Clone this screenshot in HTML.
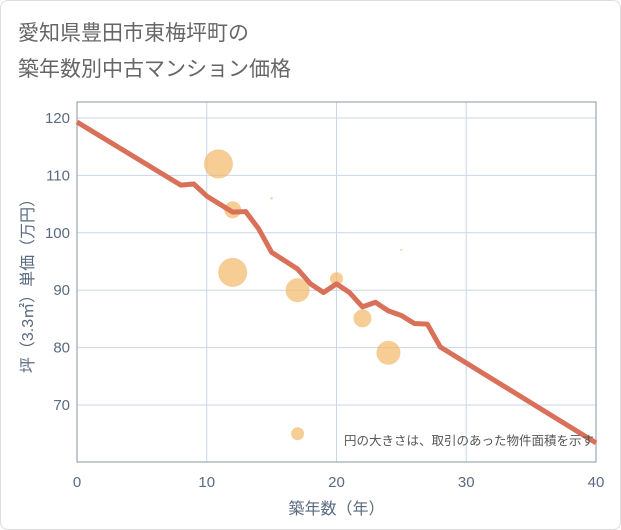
<!DOCTYPE html>
<html><head><meta charset="utf-8"><style>
body{margin:0;background:#fff;font-family:"Liberation Sans","Noto Sans CJK JP",sans-serif;}
#card{position:absolute;left:0;top:0;width:619px;height:528px;border:1px solid #ddd;border-radius:8px;}
</style></head><body>
<div id="card"></div>
<svg id="chart" width="621" height="530" style="position:absolute;left:0;top:0">
<text x="18" y="40" font-size="21" fill="#666" font-family="Liberation Sans, Noto Sans CJK JP, sans-serif">愛知県豊田市東梅坪町の</text>
<text x="18" y="76" font-size="21" fill="#666" font-family="Liberation Sans, Noto Sans CJK JP, sans-serif">築年数別中古マンション価格</text>
<g id="plot"></g>
</svg>
<script>
const xTicks=[0,10,20,30,40];
const yTicks=[70,80,90,100,110,120];
const lineYears=[0,8,9,10,12,13,14,15,17,18,19,20,21,22,23,24,25,26,27,28,40];
const lineValues=[119.3,108.3,108.5,106.4,103.6,103.7,100.7,96.6,93.7,91.1,89.6,91.1,89.6,87.1,87.9,86.4,85.6,84.2,84.1,80.1,63.4];
const bubbleYears=[10.9,12,12,15,17,20,22,24,25,17];
const bubbleValues=[112,104,93.1,106,90,92,85.1,79.1,97,65];
const bubbleSizes=[14.5,8.5,14.5,1.2,12,6.5,9,12,1,6.5];
const L=77,R=596,T=102,B=462;
const sx=v=>L+(v-0)/40*(R-L);
const sy=v=>118+(120-v)*(287/50);
const ns="http://www.w3.org/2000/svg";
const g=document.getElementById('plot');
function mk(t,a){const e=document.createElementNS(ns,t);for(const k in a)e.setAttribute(k,a[k]);g.appendChild(e);return e;}
xTicks.forEach(t=>{const l=mk('line',{x1:sx(t),x2:sx(t),y1:T,y2:B,stroke:'#c9d7e6','stroke-width':1});

const tx=mk('text',{x:sx(t),y:487,'font-size':15,fill:'#5a6a80','text-anchor':'middle'});tx.textContent=t;
});
yTicks.forEach(t=>{const l=mk('line',{x1:L,x2:R,y1:sy(t),y2:sy(t),stroke:'#c9d7e6','stroke-width':1});

const tx=mk('text',{x:70,y:sy(t)+5,'font-size':15,fill:'#5a6a80','text-anchor':'end'});tx.textContent=t;
});
const fr=mk('rect',{x:L,y:T,width:R-L,height:B-T,fill:'none',stroke:'#8a96a6','stroke-width':1});

bubbleYears.forEach((y,i)=>{const c=mk('circle',{cx:sx(y),cy:sy(bubbleValues[i]),r:bubbleSizes[i],fill:'#f2b866','fill-opacity':0.7});
});
const p=mk('polyline',{points:lineYears.map((y,i)=>sx(y)+','+sy(lineValues[i])).join(' '),fill:'none',stroke:'#d9705a','stroke-width':5,'stroke-linejoin':'round'});

const note=mk('text',{x:594,y:445,'font-size':12.5,fill:'#555','text-anchor':'end'});note.textContent='円の大きさは、取引のあった物件面積を示す';

const xt=mk('text',{x:(L+R)/2,y:514,'font-size':16,fill:'#5a6a80','text-anchor':'middle'});xt.textContent='築年数（年）';

const yt=mk('text',{x:0,y:0,'font-size':16,fill:'#5a6a80','text-anchor':'middle',transform:'translate(33,282) rotate(-90)'});yt.textContent='坪（3.3㎡）単価（万円）';

</script>
</body></html>
